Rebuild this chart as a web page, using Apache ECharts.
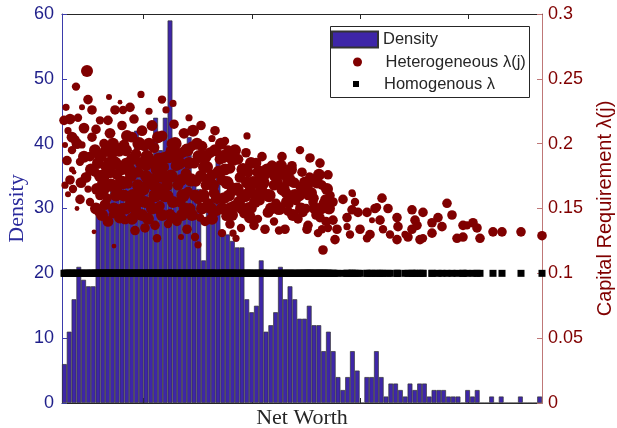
<!DOCTYPE html>
<html><head><meta charset="utf-8">
<script src="https://cdn.jsdelivr.net/npm/echarts@6/dist/echarts.min.js"></script>
<style>html,body{margin:0;padding:0;background:#fff}#c{width:617px;height:428px}</style>
</head><body><div id="c"></div>
<script>
// Histogram of bank net worth (100 bins), density counts
const densityValues = [6,11,16,21,19,18,18,30,30,31,33,32,35,34,37,42,36,40,38,44,
  39,44,59,38,37,39,41,35,33,22,30,32,39,26,26,25,24,24,16,14,
  15,22,11,12,14,21,16,18,16,13,13,15,12,12,8,11,8,4,2,4,
  8,5,0,4,4,8,4,1,3,3,2,1,3,2,3,3,1,2,2,2,
  1,1,1,0,2,1,2,0,0,1,0,1,0,0,0,1,0,0,0,1];
const binLabels = densityValues.map((_, i) => 'bin' + (i + 1));

// Heterogeneous capital requirement per bank: [net worth, lambda(j), marker size]
const hetPoints = [
 [2,0.218,8],[8,0.219,9],[14,0.244,7],[25,0.256,10],[26,0.234,8],[30,0.226,8],[16,0.220,7],[6,0.210,6],[13,0.203,8],[3,0.199,5],
 [10,0.195,7],[20,0.199,6],[5,0.187,8],[18,0.186,7],[10,0.180,5],[8,0.172,8],[3,0.168,6],[11,0.165,7],[6,0.161,5],[18,0.157,8],
 [28,0.155,7],[36,0.147,6],[32,0.132,4],[22,0.212,9],[34,0.211,8],[28,0.190,8],[24,0.174,9],[33,0.178,8],[15,0.150,4],[38,0.160,8],
 [30,0.205,8],[36,0.192,9],[38,0.218,7],[20,0.228,5],[4,0.228,6],[12,0.178,4],[26,0.165,6],
 [46,0.218,8],[52,0.121,4],[40,0.170,8],[44,0.182,9],[42,0.200,8],[48,0.208,9],[50,0.190,8],[55,0.176,9],[58,0.161,8],[60,0.214,8],
 [62,0.199,9],[64,0.185,9],[66,0.169,8],[68,0.155,8],[63,0.141,7],[70,0.205,9],[72,0.219,8],[74,0.192,9],[76,0.178,9],[78,0.162,9],
 [75,0.148,7],[73,0.133,8],[80,0.210,9],[82,0.198,8],[84,0.183,9],[86,0.170,9],[88,0.155,8],[83,0.135,8],[87,0.225,6],[45,0.158,8],
 [50,0.145,6],[56,0.150,5],[53,0.226,8],[58,0.232,4],[47,0.236,5],[40,0.190,8],[61,0.226,7],[79,0.238,6],[68,0.228,8],
 [90,0.214,9],[92,0.197,9],[94,0.180,9],[96,0.166,9],[98,0.152,8],[95,0.127,7],[100,0.206,9],[102,0.189,10],[104,0.174,9],[106,0.160,9],
 [108,0.146,8],[104,0.226,6],[110,0.200,9],[112,0.215,8],[114,0.183,9],[116,0.168,9],[118,0.155,9],[115,0.140,8],[120,0.193,9],[122,0.208,9],
 [124,0.177,9],[126,0.163,8],[128,0.150,9],[125,0.134,8],[130,0.198,8],[132,0.185,9],[134,0.171,9],[136,0.157,8],[138,0.143,7],[133,0.128,7],
 [136,0.122,6],[100,0.234,7],[108,0.195,7],[111,0.231,6],[127,0.220,6],[119,0.128,5],[93,0.137,8],[106,0.138,7],
 [140,0.198,9],[142,0.182,10],[144,0.168,9],[146,0.154,9],[143,0.140,8],[148,0.193,9],[150,0.176,9],[152,0.162,9],[155,0.148,8],[153,0.210,8],
 [158,0.188,9],[160,0.172,9],[162,0.158,10],[164,0.144,8],[160,0.131,7],[166,0.195,8],[168,0.181,9],[170,0.166,9],[172,0.152,9],[168,0.138,8],
 [174,0.127,6],[176,0.188,9],[178,0.174,9],[180,0.160,9],[182,0.146,8],[179,0.135,7],[184,0.193,8],[186,0.178,9],[188,0.164,9],[190,0.150,8],
 [192,0.137,8],[194,0.185,9],[196,0.170,9],[198,0.156,8],[196,0.142,7],[171,0.131,6],[163,0.202,7],[150,0.204,6],[185,0.206,6],[139,0.214,8],
 [200,0.190,8],[202,0.175,9],[204,0.161,9],[206,0.147,9],[203,0.134,8],[210,0.183,9],[212,0.168,9],[214,0.154,8],[212,0.140,7],[220,0.190,8],
 [222,0.176,9],[224,0.162,9],[226,0.148,8],[223,0.134,8],[230,0.183,8],[232,0.170,9],[234,0.156,8],[236,0.142,8],[238,0.195,7],[240,0.178,8],
 [242,0.164,9],[244,0.150,8],[246,0.137,8],[248,0.189,8],[250,0.172,9],[252,0.158,8],[254,0.145,8],[256,0.131,7],[258,0.185,8],[260,0.168,8],
 [262,0.154,9],[264,0.140,8],[261,0.118,8],[266,0.176,8],[268,0.160,8],[266,0.135,7],[247,0.175,6],[228,0.153,6],[217,0.133,7],
 [238,0.167,8],[241,0.147,8],[245,0.134,8],[246,0.160,8],[248,0.174,8],[251,0.155,8],[253,0.170,8],[258,0.143,8],[260,0.134,7],[263,0.157,8],
 [271,0.155,8],[271,0.141,8],[273,0.126,8],[275,0.134,8],[281,0.157,8],[285,0.143,8],[285,0.136,6],[288,0.130,7],[290,0.162,6],[290,0.149,8],
 [291,0.161,5],[293,0.155,7],[296,0.147,8],[298,0.134,8],[305,0.147,8],[305,0.127,7],[308,0.130,8],[310,0.141,5],[313,0.150,8],[315,0.151,7],
 [318,0.141,8],[320,0.158,8],[321,0.134,7],[326,0.150,8],[328,0.130,7],[335,0.143,8],[335,0.126,8],[336,0.136,8],[343,0.130,6],[346,0.128,8],
 [350,0.149,8],[350,0.134,8],[353,0.141,8],[355,0.137,8],[358,0.126,8],[361,0.147,8],[361,0.127,7],[370,0.139,8],[370,0.131,8],[376,0.143,8],
 [380,0.136,8],[385,0.154,8],[390,0.145,8],[395,0.127,8],[401,0.137,8],[401,0.128,8],[405,0.137,7],[411,0.139,8],[415,0.135,8],[418,0.127,8],
 [431,0.132,8],[440,0.132,8],[459,0.132,8],[480,0.129,8],
 [41,0.175,11],[49,0.168,11],[57,0.195,11],[65,0.206,10],[71,0.160,11],[77,0.200,11],[85,0.190,11],[89,0.172,11],[97,0.188,11],[103,0.160,11],
 [109,0.175,11],[113,0.200,11],[117,0.185,11],[121,0.160,11],[129,0.172,11],[131,0.210,10],[137,0.190,11],[141,0.160,11],[147,0.172,11],[149,0.150,10],
 [157,0.178,11],[161,0.190,11],[165,0.170,11],[169,0.150,11],[175,0.165,11],[181,0.180,11],[187,0.150,11],[191,0.170,11],[195,0.160,11],[201,0.170,11],
 [207,0.160,11],[213,0.176,11],[217,0.150,11],[221,0.165,11],[227,0.172,11],[233,0.160,11],[239,0.150,10],[243,0.170,10],[249,0.162,10],[255,0.170,10],
 [259,0.150,10],[265,0.165,10],[15,0.200,9],[22,0.190,10],[29,0.180,10],[33,0.195,10],[19,0.170,9],[10,0.205,9],[35,0.165,10],[45,0.195,11],
 [53,0.185,11],[61,0.170,11],[67,0.180,11],[81,0.165,11],[93,0.160,11],[99,0.175,11],[107,0.190,11],[125,0.195,11],[143,0.190,11],[153,0.195,10],
 [171,0.188,11],[183,0.160,11],[197,0.178,11],[205,0.180,10],[219,0.183,10],[231,0.145,10],
 [38,0.175,10],[43,0.153,9],[47,0.185,10],[51,0.200,10],[54,0.160,10],[59,0.180,10],[60,0.150,9],[64,0.195,10],[69,0.175,10],[73,0.150,10],
 [79,0.185,10],[83,0.155,10],[87,0.200,10],[91,0.185,10],[95,0.150,9],[96,0.205,10],
 [101,0.182,10],[105,0.168,10],[111,0.155,10],[115,0.192,10],[119,0.172,10],[123,0.150,10],[127,0.185,10],[133,0.160,10],[135,0.200,10],[139,0.175,10],
 [145,0.182,10],[151,0.168,10],[155,0.158,10],[159,0.200,10],[163,0.180,10],[167,0.160,10],[173,0.195,10],[177,0.155,10],[185,0.170,10],[189,0.185,10],
 [193,0.155,10],[199,0.165,10],[209,0.150,10],[215,0.170,10],[225,0.155,10],[229,0.180,10],[237,0.160,10],[245,0.168,10],[253,0.150,10],[257,0.176,10],
 [267,0.150,10],
 [34,0.150,10],[40,0.145,10],[46,0.140,9],[52,0.150,10],[58,0.143,10],[64,0.150,10],[70,0.142,10],[76,0.155,10],[80,0.145,10],[86,0.142,10],
 [90,0.150,10],[100,0.145,10],[110,0.143,10],[120,0.145,10],[130,0.145,10],[140,0.150,10],[150,0.142,10],[160,0.150,10],[170,0.145,10],[180,0.150,10],
 [188,0.143,10],[36,0.185,10],[42,0.165,10],[48,0.178,10],[56,0.168,10],[62,0.160,10],[70,0.188,10],[76,0.168,10],[84,0.175,10],[92,0.168,10]
];
const homLambda = 0.1;            // homogeneous capital requirement
const netWorthRange = [0, 480];   // net worth axis extent
const netWorthTicks = [81.5, 190, 298.5, 406.5];
const densityAxis = {min: 0, max: 60, interval: 10};
const lambdaAxis = {min: 0, max: 0.3, interval: 0.05};

const homPoints = hetPoints.map(p => [p[0], homLambda]);

const chart = echarts.init(document.getElementById('c'), null, {renderer: 'canvas'});
const sans = 'Liberation Sans, Arial, Helvetica, sans-serif';
const serif = 'Liberation Serif, Times New Roman, serif';
const blue = '#1f1f8a', red = '#800000', dark = '#262626';
const legendBase = {orient: 'horizontal', padding: 0, itemGap: 0, selectedMode: false,
  textStyle: {fontSize: 16.5, color: dark, fontFamily: sans}};
chart.setOption({
  animation: false,
  backgroundColor: '#fff',
  grid: {left: 62, right: 75, top: 14, bottom: 25, containLabel: false, outerBoundsMode: 'none'},
  xAxis: [
    {type: 'category', data: binLabels, show: false, boundaryGap: true},
    {type: 'value', min: netWorthRange[0], max: netWorthRange[1], position: 'bottom',
     name: 'Net Worth', nameLocation: 'middle', nameGap: 4, nameMoveOverlap: false,
     nameTextStyle: {fontFamily: serif, fontSize: 22, color: dark, verticalAlign: 'top'},
     axisLine: {show: true, onZero: false, lineStyle: {color: dark, width: 1}},
     axisTick: {show: true, inside: true, length: 5, customValues: netWorthTicks, lineStyle: {color: dark}},
     axisLabel: {show: false}, splitLine: {show: false}},
    {type: 'value', min: netWorthRange[0], max: netWorthRange[1], position: 'top',
     axisLine: {show: true, onZero: false, lineStyle: {color: dark, width: 1}},
     axisTick: {show: true, inside: true, length: 5, customValues: netWorthTicks, lineStyle: {color: dark}},
     axisLabel: {show: false}, splitLine: {show: false}}
  ],
  yAxis: [
    {type: 'value', position: 'left', min: densityAxis.min, max: densityAxis.max, interval: densityAxis.interval,
     name: 'Density', nameLocation: 'middle', nameGap: 34, nameRotate: 90, nameMoveOverlap: false,
     nameTextStyle: {fontFamily: serif, fontSize: 22, color: '#2a2a9c'},
     axisLine: {show: true, onZero: false, lineStyle: {color: '#3b3bab', width: 1}},
     axisTick: {show: true, inside: true, length: 5, lineStyle: {color: '#3b3bab'}},
     axisLabel: {color: blue, fontSize: 18, fontFamily: sans, margin: 8},
     splitLine: {show: false}},
    {type: 'value', position: 'right', min: lambdaAxis.min, max: lambdaAxis.max, interval: lambdaAxis.interval,
     name: 'Capital Requirement λ(j)', nameLocation: 'middle', nameGap: 53, nameRotate: 90, nameMoveOverlap: false,
     nameTextStyle: {fontFamily: sans, fontSize: 20, color: red},
     axisLine: {show: true, onZero: false, lineStyle: {color: '#bf7777', width: 1}},
     axisTick: {show: true, inside: true, length: 5, lineStyle: {color: '#bf7777'}},
     axisLabel: {color: red, fontSize: 18, fontFamily: sans, margin: 6},
     splitLine: {show: false}}
  ],
  legend: [
    Object.assign({}, legendBase, {left: 331, top: 30.5, itemWidth: 46, itemHeight: 16, data: [{name: 'Density', icon: 'rect'}]}),
    Object.assign({}, legendBase, {left: 353, top: 53.5, itemWidth: 46, itemHeight: 9, data: [{name: 'Heterogeneous λ(j)', icon: 'circle'}]}),
    Object.assign({}, legendBase, {left: 353, top: 75.5, itemWidth: 46, itemHeight: 6, data: [{name: 'Homogenous λ', icon: 'path://M0 0H10V10H0Z'}]})
  ],
  graphic: [{type: 'rect', z: 3, shape: {x: 330.5, y: 26.5, width: 199, height: 71},
    style: {fill: '#fff', stroke: dark, lineWidth: 1}}],
  series: [
    {name: 'Density', type: 'bar', xAxisIndex: 0, yAxisIndex: 0, data: densityValues,
     barWidth: '100%', barCategoryGap: '0%',
     itemStyle: {color: '#3e26a8', borderColor: '#333333', borderWidth: 0.7}},
    {name: 'Heterogeneous λ(j)', type: 'scatter', xAxisIndex: 1, yAxisIndex: 1, data: hetPoints,
     symbol: 'circle', symbolSize: v => v[2] * 1.2, itemStyle: {color: red, opacity: 1}},
    {name: 'Homogenous λ', type: 'scatter', xAxisIndex: 1, yAxisIndex: 1, data: homPoints,
     symbol: 'rect', symbolSize: 7, itemStyle: {color: '#000000', opacity: 1}}
  ]
});
</script></body></html>
